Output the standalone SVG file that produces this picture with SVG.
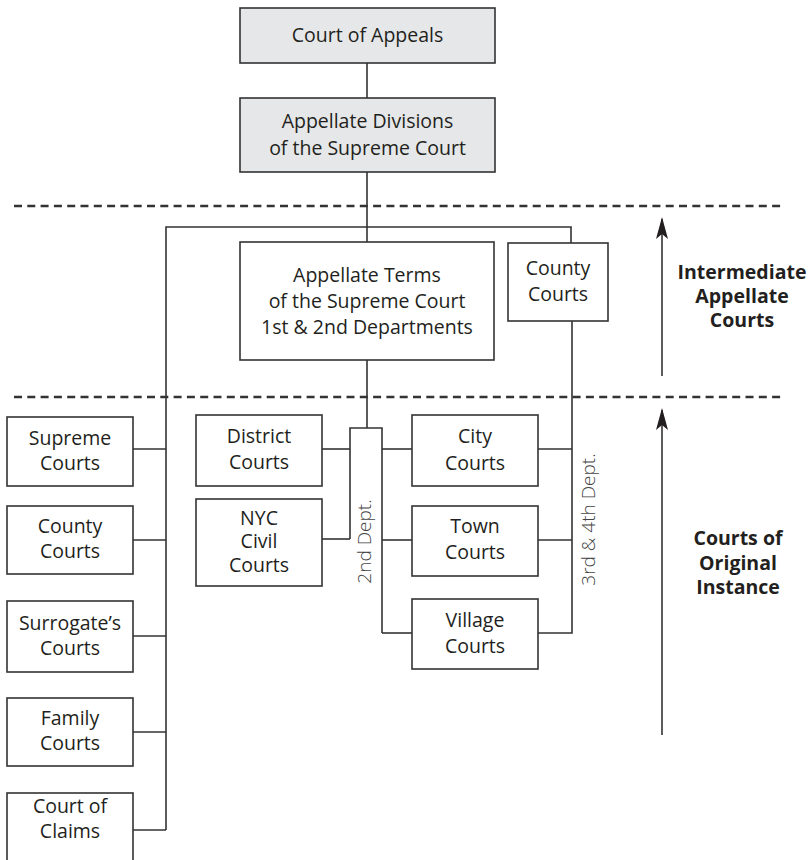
<svg xmlns="http://www.w3.org/2000/svg" width="810" height="860" viewBox="0 0 810 860">
  <style>
    .box { fill: #ffffff; stroke: #333333; stroke-width: 1.6; }
    .gbox { fill: #e6e7e8; stroke: #333333; stroke-width: 1.6; }
    .t { font-family: "Open Sans", "Liberation Sans", sans-serif; font-size: 19.5px; fill: #231f20; text-anchor: middle; }
    .b { font-family: "Open Sans", "Liberation Sans", sans-serif; font-size: 19.5px; font-weight: bold; fill: #231f20; text-anchor: middle; }
    .r { font-family: "Open Sans", "Liberation Sans", sans-serif; font-size: 19px; font-weight: 300; fill: #444444; text-anchor: middle; }
    .ln { fill: none; stroke: #333333; stroke-width: 1.6; }
    .dash { fill: none; stroke: #333333; stroke-width: 2.6; stroke-dasharray: 8 5.3; }
    .arr { fill: none; stroke: #333333; stroke-width: 1.6; marker-end: url(#ah); }
  </style>
  <defs>
    <marker id="ah" markerWidth="22" markerHeight="14" refX="20" refY="7" orient="auto" markerUnits="userSpaceOnUse" viewBox="0 0 22 14">
      <path d="M22,7 L0,1 L5,7 L0,13 Z" fill="#231f20"/>
    </marker>
  </defs>

  <!-- dashed separators -->
  <g id="separators">
    <line class="dash" x1="14" y1="206" x2="782" y2="206"/>
    <line class="dash" x1="14" y1="397" x2="782" y2="397"/>
  </g>

  <!-- connectors -->
  <g id="connectors">
    <line class="ln" x1="367" y1="63" x2="367" y2="98"/>
    <line class="ln" x1="367" y1="172" x2="367" y2="242"/>
    <polyline class="ln" points="166,830 166,227 571,227 571,243"/>
    <line class="ln" x1="133" y1="449" x2="166" y2="449"/>
    <line class="ln" x1="133" y1="540" x2="166" y2="540"/>
    <line class="ln" x1="133" y1="636" x2="166" y2="636"/>
    <line class="ln" x1="133" y1="732" x2="166" y2="732"/>
    <line class="ln" x1="133" y1="830" x2="166" y2="830"/>
    <line class="ln" x1="367" y1="360" x2="367" y2="428"/>
    <polyline class="ln" points="350,539 350,428 382,428 382,633"/>
    <line class="ln" x1="322" y1="449" x2="350" y2="449"/>
    <line class="ln" x1="322" y1="539" x2="350" y2="539"/>
    <line class="ln" x1="382" y1="449" x2="412" y2="449"/>
    <line class="ln" x1="382" y1="540" x2="412" y2="540"/>
    <line class="ln" x1="382" y1="633" x2="412" y2="633"/>
    <polyline class="ln" points="572,321 572,633 538,633"/>
    <line class="ln" x1="538" y1="449" x2="572" y2="449"/>
    <line class="ln" x1="538" y1="540" x2="572" y2="540"/>
    <line class="arr" x1="662" y1="376" x2="662" y2="219"/>
    <line class="arr" x1="662" y1="735" x2="662" y2="410"/>
  </g>

  <g id="court-of-appeals">
    <rect class="gbox" x="240" y="8" width="255" height="55"/>
    <text class="t" x="367.5" y="42">Court of Appeals</text>
  </g>
  <g id="appellate-divisions">
    <rect class="gbox" x="240" y="98" width="255" height="74"/>
    <text class="t" x="367.5" y="128">Appellate Divisions</text>
    <text class="t" x="367.5" y="155">of the Supreme Court</text>
  </g>
  <g id="appellate-terms">
    <rect class="box" x="240" y="242" width="254" height="118"/>
    <text class="t" x="367" y="282">Appellate Terms</text>
    <text class="t" x="367" y="308">of the Supreme Court</text>
    <text class="t" x="367" y="334">1st &amp; 2nd Departments</text>
  </g>
  <g id="county-courts-appellate">
    <rect class="box" x="508" y="243" width="100" height="78"/>
    <text class="t" x="558" y="275">County</text>
    <text class="t" x="558" y="301">Courts</text>
  </g>

  <g id="supreme-courts">
    <rect class="box" x="7" y="417" width="126" height="69"/>
    <text class="t" x="70" y="445">Supreme</text>
    <text class="t" x="70" y="470">Courts</text>
  </g>
  <g id="county-courts">
    <rect class="box" x="7" y="506" width="126" height="68"/>
    <text class="t" x="70" y="533">County</text>
    <text class="t" x="70" y="558">Courts</text>
  </g>
  <g id="surrogates-courts">
    <rect class="box" x="7" y="601" width="126" height="71"/>
    <text class="t" x="70" y="630">Surrogate’s</text>
    <text class="t" x="70" y="655">Courts</text>
  </g>
  <g id="family-courts">
    <rect class="box" x="7" y="698" width="126" height="68"/>
    <text class="t" x="70" y="725">Family</text>
    <text class="t" x="70" y="750">Courts</text>
  </g>
  <g id="court-of-claims">
    <rect class="box" x="7" y="793" width="126" height="70"/>
    <text class="t" x="70" y="813">Court of</text>
    <text class="t" x="70" y="838">Claims</text>
  </g>

  <g id="district-courts">
    <rect class="box" x="196" y="415" width="126" height="71"/>
    <text class="t" x="259" y="443">District</text>
    <text class="t" x="259" y="469">Courts</text>
  </g>
  <g id="nyc-civil-courts">
    <rect class="box" x="196" y="499" width="126" height="87"/>
    <text class="t" x="259" y="525">NYC</text>
    <text class="t" x="259" y="548">Civil</text>
    <text class="t" x="259" y="572">Courts</text>
  </g>
  <g id="city-courts">
    <rect class="box" x="412" y="415" width="126" height="71"/>
    <text class="t" x="475" y="443">City</text>
    <text class="t" x="475" y="470">Courts</text>
  </g>
  <g id="town-courts">
    <rect class="box" x="412" y="506" width="126" height="70"/>
    <text class="t" x="475" y="533">Town</text>
    <text class="t" x="475" y="559">Courts</text>
  </g>
  <g id="village-courts">
    <rect class="box" x="412" y="599" width="126" height="70"/>
    <text class="t" x="475" y="627">Village</text>
    <text class="t" x="475" y="653">Courts</text>
  </g>

  <g id="dept-labels">
    <text class="r" transform="translate(371,541.5) rotate(-90)">2nd Dept.</text>
    <text class="r" transform="translate(595,519.5) rotate(-90)">3rd &amp; 4th Dept.</text>
  </g>

  <g id="level-labels">
    <text class="b" x="742" y="279">Intermediate</text>
    <text class="b" x="742" y="303">Appellate</text>
    <text class="b" x="742" y="327">Courts</text>
    <text class="b" x="738" y="545">Courts of</text>
    <text class="b" x="738" y="570">Original</text>
    <text class="b" x="738" y="594">Instance</text>
  </g>
</svg>
